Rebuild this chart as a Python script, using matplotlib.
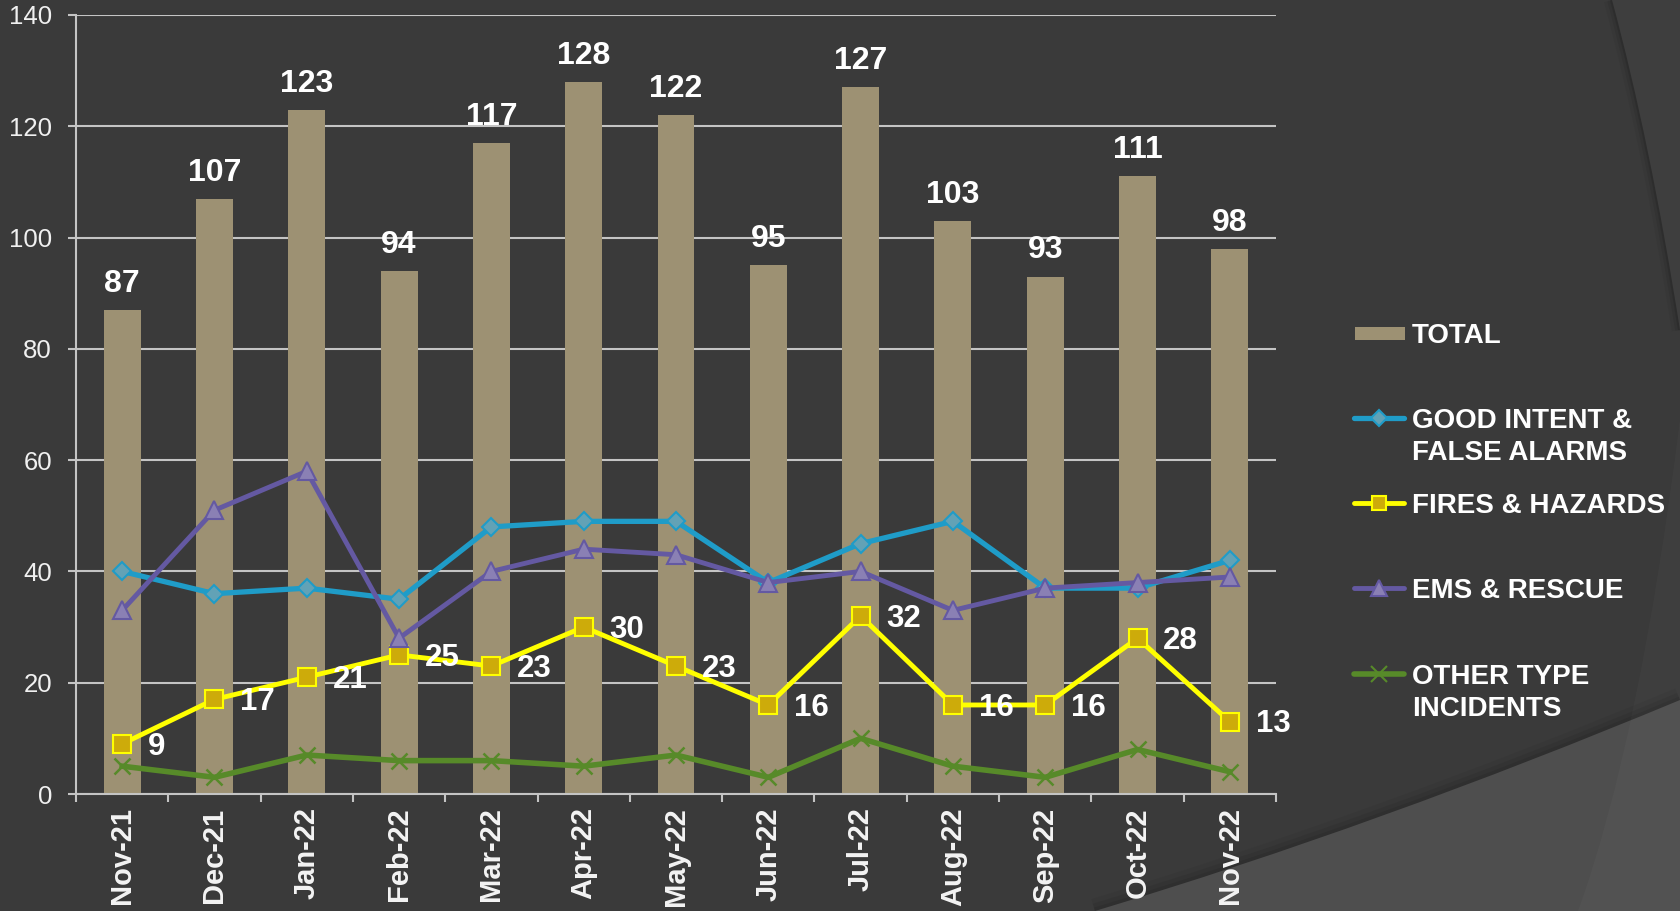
import matplotlib
matplotlib.use("Agg")
import matplotlib.pyplot as plt
from matplotlib.path import Path
from matplotlib.patches import PathPatch, Rectangle
import numpy as np

# Monthly incident counts
months = ["Nov-21", "Dec-21", "Jan-22", "Feb-22", "Mar-22", "Apr-22", "May-22",
          "Jun-22", "Jul-22", "Aug-22", "Sep-22", "Oct-22", "Nov-22"]
total = [87, 107, 123, 94, 117, 128, 122, 95, 127, 103, 93, 111, 98]
good_intent = [40, 36, 37, 35, 48, 49, 49, 38, 45, 49, 37, 37, 42]
fires = [9, 17, 21, 25, 23, 30, 23, 16, 32, 16, 16, 28, 13]
ems = [33, 51, 58, 28, 40, 44, 43, 38, 40, 33, 37, 38, 39]
other = [5, 3, 7, 6, 6, 5, 7, 3, 10, 5, 3, 8, 4]
y_ticks = [0, 20, 40, 60, 80, 100, 120, 140]

plt.rcParams["font.family"] = ["Liberation Sans", "DejaVu Sans"]

BG = "#3a3a3a"
BAR = "#9d9173"
GRID = "#c4c4c4"
BLUE, BLUE_FILL = "#1f9cc8", "#62a2b6"
YEL, YEL_FILL = "#ffff00", "#cdab0a"
PUR, PUR_FILL = "#6459a2", "#8a80b4"
GRN = "#578a29"

W, H = 1680, 911
fig = plt.figure(figsize=(W / 100, H / 100), dpi=100)
fig.patch.set_facecolor(BG)

# Backdrop layer in pixel units (y downwards)
bg = fig.add_axes([0, 0, 1, 1], zorder=0)
bg.set_xlim(0, W)
bg.set_ylim(H, 0)
bg.axis("off")


def curve(p0, c, p1):
    return Path([p0, c, p1], [Path.MOVETO, Path.CURVE3, Path.CURVE3])


def region(p0, c, p1, tail):
    verts = [p0, c, p1] + tail + [p0]
    codes = [Path.MOVETO, Path.CURVE3, Path.CURVE3] + [Path.LINETO] * len(tail) + [Path.CLOSEPOLY]
    return Path(verts, codes)


# curved panel on the upper right
arc_pts = ((1612, 0), (1650, 140), (1680, 330))
for lw, a in [(12, 0.04), (7, 0.07), (3, 0.10)]:
    bg.add_patch(PathPatch(curve(*arc_pts), facecolor="none", edgecolor="black",
                           lw=lw, alpha=a))
bg.add_patch(PathPatch(region(*arc_pts, [(1680, 0)]), facecolor="#3e3e3e",
                       edgecolor="none"))

# lighter sweep in the lower right corner
sweep_pts = ((1095, 911), (1380, 825), (1680, 700))
for lw, a in [(18, 0.04), (11, 0.06), (5, 0.08)]:
    bg.add_patch(PathPatch(curve(*sweep_pts), facecolor="none", edgecolor="black",
                           lw=lw, alpha=a))
bg.add_patch(PathPatch(region(*sweep_pts, [(1680, 911)]), facecolor="#4e4e4e",
                       edgecolor="none"))
inner_pts = ((1578, 911), (1640, 740), (1680, 420))
bg.add_patch(PathPatch(region(*inner_pts, [(1680, 911)]), facecolor="#ffffff",
                       alpha=0.025, edgecolor="none"))

# Main chart
ax = fig.add_axes([76 / W, 1 - 794 / H, 1200 / W, 779 / H], zorder=2)
ax.set_facecolor("none")
x = np.arange(len(months))
ax.set_xlim(-0.5, len(months) - 0.5)
ax.set_ylim(0, 140)
ax.set_yticks(y_ticks)
ax.yaxis.grid(True, color=GRID, lw=1.5)
ax.set_axisbelow(True)

ax.bar(x, total, width=0.4, color=BAR, zorder=2)
ax.plot(x, good_intent, color=BLUE, lw=3.8, marker="D", ms=9.5,
        mfc=BLUE_FILL, mec=BLUE, mew=1.5, zorder=3)
ax.plot(x, fires, color=YEL, lw=3.5, marker="s", ms=12.5,
        mfc=YEL_FILL, mec=YEL, mew=1.5, zorder=4)
ax.plot(x, ems, color=PUR, lw=3.5, marker="^", ms=13,
        mfc=PUR_FILL, mec=PUR, mew=1.5, zorder=5)
ax.plot(x, other, color=GRN, lw=4, marker="x", ms=12, mew=1.8,
        mec=GRN, zorder=6)

for i, v in enumerate(total):
    ax.annotate(str(v), (i, v), xytext=(0, 13), textcoords="offset points",
                ha="center", va="baseline", fontsize=23, weight="bold",
                color="white", zorder=7)
for i, v in enumerate(fires):
    ax.annotate(str(v), (i, v), xytext=(18.5, -2), textcoords="offset points",
                ha="left", va="center", fontsize=22.5, weight="bold",
                color="white", zorder=7)

for side in ["top", "right"]:
    ax.spines[side].set_visible(False)
for side in ["left", "bottom"]:
    ax.spines[side].set_color(GRID)
    ax.spines[side].set_linewidth(1.5)

ax.tick_params(axis="y", colors=GRID, labelcolor="#f0f0f0", labelsize=18.5,
               length=5.8, width=1.5, pad=11.5)
ax.set_xticks(x)
ax.set_xticklabels(months, rotation=90, fontsize=21, weight="bold",
                   color="#f4f4f4")
ax.tick_params(axis="x", which="major", length=0, pad=9.7)
ax.set_xticks(np.arange(-0.5, len(months), 1), minor=True)
ax.tick_params(axis="x", which="minor", length=5.8, width=1.5, colors=GRID)

# Legend
leg_y = [333, 418, 503, 588, 674]
bg.add_patch(Rectangle((1355, leg_y[0] - 6.5), 50, 13, facecolor=BAR,
                       edgecolor="none"))
series_style = [
    (BLUE, "D", 8, BLUE_FILL, 3.8),
    (YEL, "s", 10.5, YEL_FILL, 3.5),
    (PUR, "^", 11, PUR_FILL, 3.5),
    (GRN, "x", 11, GRN, 4),
]
for (col, mk, ms, mf, lw), y in zip(series_style, leg_y[1:]):
    bg.plot([1354, 1404], [y, y], color=col, lw=lw, solid_capstyle="round")
    bg.plot([1379], [y], marker=mk, ms=ms, mfc=mf, mec=col, mew=1.5)

legend_labels = [["TOTAL"], ["GOOD INTENT &", "FALSE ALARMS"], ["FIRES & HAZARDS"],
                 ["EMS & RESCUE"], ["OTHER TYPE", "INCIDENTS"]]
for lines, y in zip(legend_labels, leg_y):
    for k, line in enumerate(lines):
        bg.text(1412, y + 10 + 32 * k, line, ha="left", va="baseline",
                fontsize=20, weight="bold", color="white")

fig.savefig("out.png", dpi=100, facecolor=fig.get_facecolor())
